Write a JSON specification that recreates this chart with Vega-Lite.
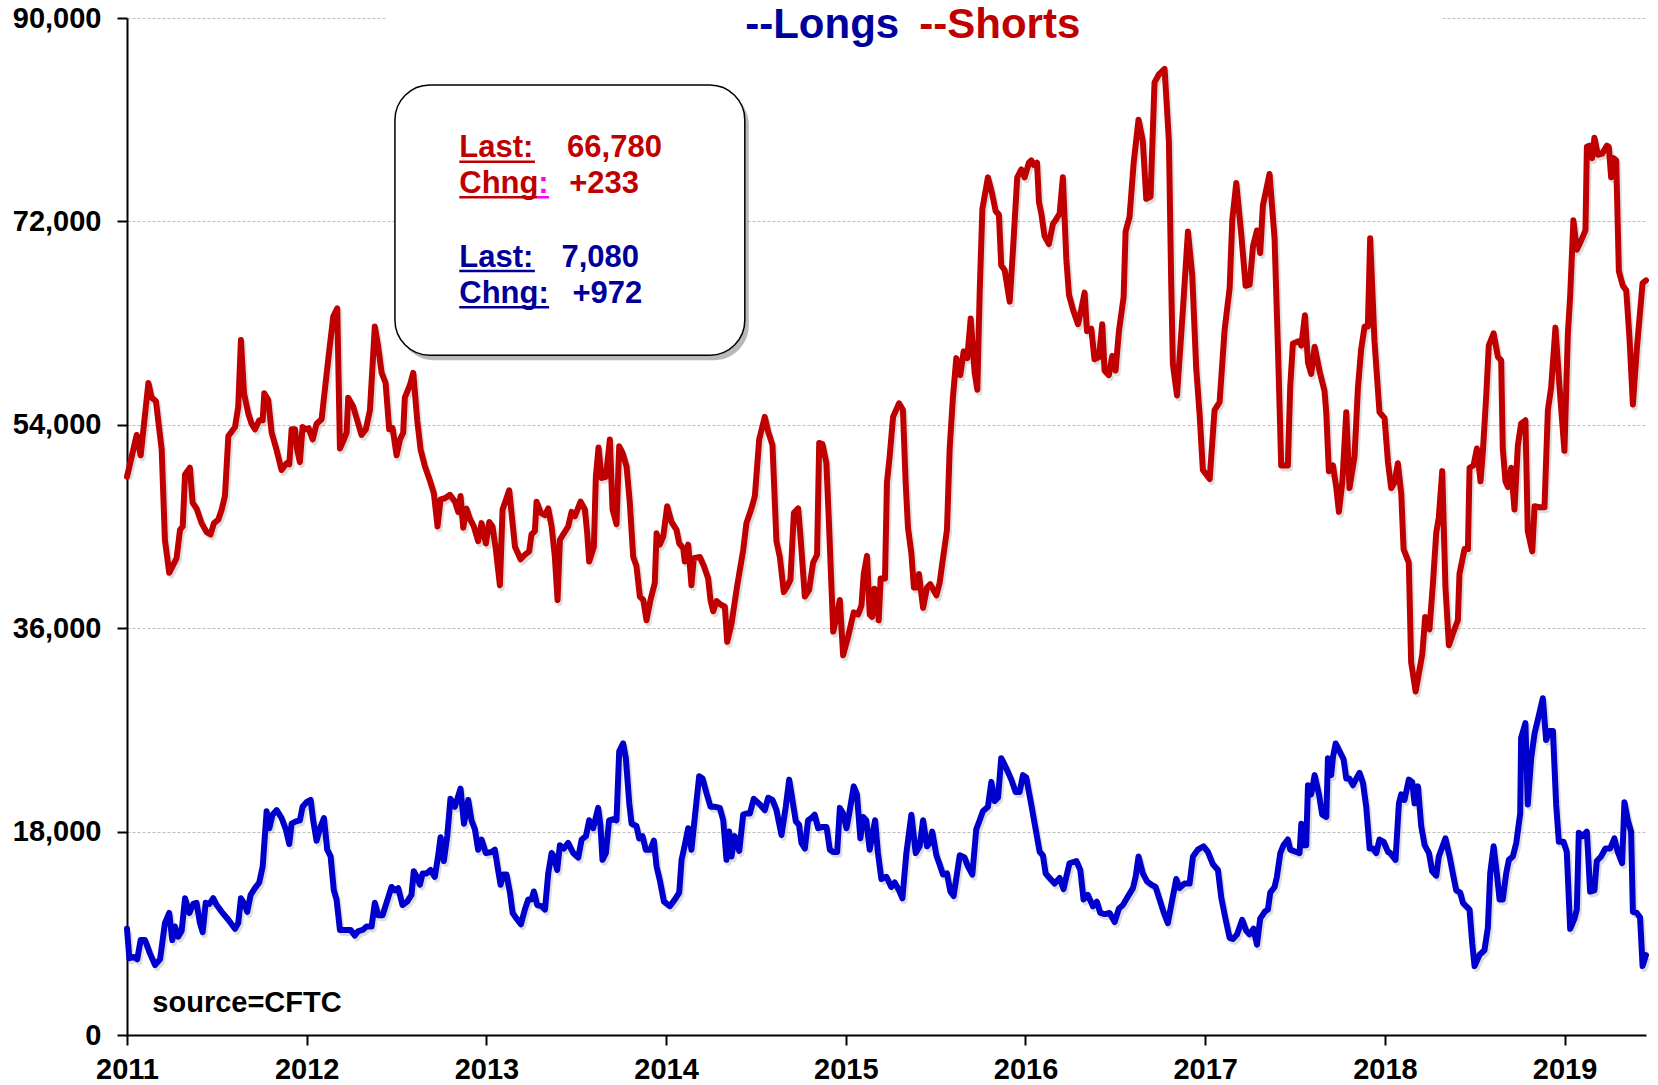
{
  "$schema": "https://vega.github.io/schema/vega-lite/v6.json",
  "width": 1519,
  "height": 1017,
  "autosize": {"type": "none"},
  "padding": {"left": 127, "top": 18, "right": 12, "bottom": 50},
  "background": "white",
  "config": {"view": {"stroke": null}, "font": "Liberation Sans"},
  "datasets": {
    "shorts": [
{"t":2011.000,"v":49400},{"t":2011.054,"v":53100},{"t":2011.076,"v":51300},{"t":2011.119,"v":57700},{"t":2011.137,"v":56400},{"t":2011.161,"v":56100},{"t":2011.193,"v":51800},{"t":2011.211,"v":43800},{"t":2011.235,"v":40900},{"t":2011.276,"v":42200},{"t":2011.295,"v":44700},{"t":2011.310,"v":45000},{"t":2011.323,"v":49600},{"t":2011.350,"v":50200},{"t":2011.365,"v":47100},{"t":2011.387,"v":46600},{"t":2011.415,"v":45300},{"t":2011.443,"v":44500},{"t":2011.465,"v":44300},{"t":2011.484,"v":45300},{"t":2011.508,"v":45600},{"t":2011.527,"v":46500},{"t":2011.545,"v":47700},{"t":2011.564,"v":53000},{"t":2011.601,"v":53800},{"t":2011.619,"v":55600},{"t":2011.634,"v":61500},{"t":2011.651,"v":56800},{"t":2011.675,"v":55000},{"t":2011.693,"v":54100},{"t":2011.712,"v":53600},{"t":2011.736,"v":54400},{"t":2011.755,"v":54400},{"t":2011.764,"v":56800},{"t":2011.786,"v":56200},{"t":2011.805,"v":53300},{"t":2011.832,"v":51800},{"t":2011.860,"v":50000},{"t":2011.888,"v":50600},{"t":2011.903,"v":50500},{"t":2011.916,"v":53600},{"t":2011.935,"v":53600},{"t":2011.947,"v":51800},{"t":2011.962,"v":50700},{"t":2011.977,"v":53800},{"t":2011.996,"v":53600},{"t":2012.011,"v":53700},{"t":2012.033,"v":52700},{"t":2012.055,"v":54100},{"t":2012.083,"v":54500},{"t":2012.101,"v":57100},{"t":2012.125,"v":60500},{"t":2012.148,"v":63600},{"t":2012.170,"v":64300},{"t":2012.185,"v":51900},{"t":2012.207,"v":52700},{"t":2012.222,"v":53300},{"t":2012.231,"v":56400},{"t":2012.259,"v":55600},{"t":2012.281,"v":54400},{"t":2012.305,"v":53100},{"t":2012.329,"v":53600},{"t":2012.352,"v":55300},{"t":2012.379,"v":62700},{"t":2012.398,"v":60900},{"t":2012.417,"v":58600},{"t":2012.439,"v":57700},{"t":2012.459,"v":53600},{"t":2012.478,"v":53700},{"t":2012.500,"v":51300},{"t":2012.519,"v":52700},{"t":2012.537,"v":53300},{"t":2012.546,"v":56400},{"t":2012.574,"v":57500},{"t":2012.593,"v":58600},{"t":2012.615,"v":54400},{"t":2012.634,"v":51800},{"t":2012.658,"v":50300},{"t":2012.685,"v":49100},{"t":2012.708,"v":47900},{"t":2012.728,"v":45000},{"t":2012.745,"v":47400},{"t":2012.769,"v":47500},{"t":2012.797,"v":47800},{"t":2012.825,"v":47200},{"t":2012.843,"v":46300},{"t":2012.856,"v":47700},{"t":2012.871,"v":44900},{"t":2012.889,"v":46600},{"t":2012.908,"v":45700},{"t":2012.930,"v":45000},{"t":2012.954,"v":43700},{"t":2012.973,"v":45300},{"t":2012.997,"v":43500},
{"t":2013.016,"v":45400},{"t":2013.034,"v":45000},{"t":2013.053,"v":42900},{"t":2013.075,"v":39800},{"t":2013.090,"v":46500},{"t":2013.127,"v":48200},{"t":2013.159,"v":43200},{"t":2013.190,"v":42100},{"t":2013.214,"v":42500},{"t":2013.238,"v":42800},{"t":2013.251,"v":44300},{"t":2013.270,"v":44600},{"t":2013.279,"v":47200},{"t":2013.303,"v":46200},{"t":2013.326,"v":46000},{"t":2013.344,"v":46600},{"t":2013.363,"v":45000},{"t":2013.381,"v":42300},{"t":2013.396,"v":38500},{"t":2013.409,"v":43800},{"t":2013.431,"v":44400},{"t":2013.455,"v":45000},{"t":2013.474,"v":46300},{"t":2013.492,"v":45900},{"t":2013.524,"v":47200},{"t":2013.548,"v":46500},{"t":2013.561,"v":44400},{"t":2013.572,"v":41900},{"t":2013.598,"v":43200},{"t":2013.609,"v":49400},{"t":2013.624,"v":52000},{"t":2013.641,"v":49300},{"t":2013.665,"v":49400},{"t":2013.687,"v":52700},{"t":2013.702,"v":46500},{"t":2013.724,"v":45200},{"t":2013.739,"v":52100},{"t":2013.758,"v":51500},{"t":2013.780,"v":50300},{"t":2013.798,"v":47100},{"t":2013.817,"v":42300},{"t":2013.835,"v":41500},{"t":2013.854,"v":38800},{"t":2013.873,"v":38500},{"t":2013.891,"v":36700},{"t":2013.913,"v":38500},{"t":2013.937,"v":40000},{"t":2013.947,"v":44400},{"t":2013.965,"v":43400},{"t":2013.984,"v":44100},{"t":2014.006,"v":46800},{"t":2014.030,"v":45400},{"t":2014.058,"v":44700},{"t":2014.073,"v":43500},{"t":2014.095,"v":43100},{"t":2014.104,"v":41900},{"t":2014.123,"v":43400},{"t":2014.141,"v":39800},{"t":2014.154,"v":42200},{"t":2014.188,"v":42300},{"t":2014.210,"v":41500},{"t":2014.234,"v":40400},{"t":2014.247,"v":38500},{"t":2014.262,"v":37500},{"t":2014.281,"v":38400},{"t":2014.303,"v":38100},{"t":2014.327,"v":37900},{"t":2014.340,"v":34800},{"t":2014.364,"v":36400},{"t":2014.395,"v":39700},{"t":2014.429,"v":42900},{"t":2014.447,"v":45300},{"t":2014.475,"v":46600},{"t":2014.494,"v":47700},{"t":2014.518,"v":52700},{"t":2014.549,"v":54700},{"t":2014.568,"v":53400},{"t":2014.592,"v":52200},{"t":2014.614,"v":43700},{"t":2014.633,"v":42300},{"t":2014.655,"v":39200},{"t":2014.674,"v":39700},{"t":2014.692,"v":40300},{"t":2014.711,"v":46200},{"t":2014.735,"v":46600},{"t":2014.748,"v":44100},{"t":2014.772,"v":38800},{"t":2014.796,"v":39400},{"t":2014.818,"v":41800},{"t":2014.840,"v":42500},{"t":2014.852,"v":52400},{"t":2014.870,"v":52300},{"t":2014.892,"v":50600},{"t":2014.907,"v":45000},{"t":2014.930,"v":35700},{"t":2014.944,"v":36700},{"t":2014.967,"v":38500},{"t":2014.985,"v":33600},
{"t":2015.012,"v":35200},{"t":2015.044,"v":37400},{"t":2015.068,"v":37200},{"t":2015.087,"v":38000},{"t":2015.100,"v":40800},{"t":2015.118,"v":42400},{"t":2015.133,"v":37200},{"t":2015.146,"v":37000},{"t":2015.159,"v":39500},{"t":2015.170,"v":39300},{"t":2015.183,"v":36700},{"t":2015.194,"v":40400},{"t":2015.218,"v":40400},{"t":2015.229,"v":48900},{"t":2015.244,"v":51200},{"t":2015.263,"v":54700},{"t":2015.296,"v":55900},{"t":2015.318,"v":55300},{"t":2015.333,"v":48900},{"t":2015.346,"v":44900},{"t":2015.365,"v":42600},{"t":2015.379,"v":39600},{"t":2015.396,"v":39600},{"t":2015.407,"v":40800},{"t":2015.430,"v":37800},{"t":2015.452,"v":39600},{"t":2015.470,"v":39900},{"t":2015.504,"v":38900},{"t":2015.522,"v":40000},{"t":2015.541,"v":42200},{"t":2015.563,"v":44700},{"t":2015.578,"v":51900},{"t":2015.596,"v":56400},{"t":2015.615,"v":59900},{"t":2015.637,"v":58400},{"t":2015.656,"v":60500},{"t":2015.676,"v":59900},{"t":2015.695,"v":63400},{"t":2015.717,"v":58600},{"t":2015.732,"v":57100},{"t":2015.745,"v":65700},{"t":2015.760,"v":73100},{"t":2015.791,"v":75900},{"t":2015.815,"v":74400},{"t":2015.834,"v":72900},{"t":2015.852,"v":72600},{"t":2015.865,"v":68100},{"t":2015.884,"v":67700},{"t":2015.912,"v":64900},{"t":2015.930,"v":69400},{"t":2015.954,"v":75900},{"t":2015.977,"v":76600},{"t":2015.995,"v":75900},{"t":2016.019,"v":77200},{"t":2016.032,"v":77400},{"t":2016.045,"v":77000},{"t":2016.064,"v":77200},{"t":2016.075,"v":73700},{"t":2016.088,"v":72700},{"t":2016.106,"v":70700},{"t":2016.130,"v":70000},{"t":2016.153,"v":71800},{"t":2016.171,"v":72200},{"t":2016.190,"v":72700},{"t":2016.208,"v":75900},{"t":2016.227,"v":68700},{"t":2016.242,"v":65500},{"t":2016.264,"v":64200},{"t":2016.292,"v":62900},{"t":2016.310,"v":64200},{"t":2016.329,"v":65700},{"t":2016.342,"v":62300},{"t":2016.366,"v":62500},{"t":2016.384,"v":59800},{"t":2016.409,"v":60000},{"t":2016.427,"v":62900},{"t":2016.440,"v":58800},{"t":2016.464,"v":58400},{"t":2016.483,"v":60100},{"t":2016.501,"v":58800},{"t":2016.520,"v":62300},{"t":2016.546,"v":65300},{"t":2016.557,"v":71100},{"t":2016.579,"v":72400},{"t":2016.602,"v":77200},{"t":2016.629,"v":81000},{"t":2016.653,"v":79100},{"t":2016.672,"v":74000},{"t":2016.696,"v":74200},{"t":2016.718,"v":84300},{"t":2016.742,"v":85000},{"t":2016.774,"v":85500},{"t":2016.798,"v":79100},{"t":2016.811,"v":66400},{"t":2016.820,"v":59400},{"t":2016.843,"v":56600},{"t":2016.876,"v":64200},{"t":2016.904,"v":71100},{"t":2016.928,"v":67200},{"t":2016.950,"v":59000},{"t":2016.969,"v":54900},{"t":2016.987,"v":50000},
{"t":2017.025,"v":49200},{"t":2017.052,"v":55300},{"t":2017.080,"v":56000},{"t":2017.108,"v":62400},{"t":2017.136,"v":66100},{"t":2017.151,"v":72200},{"t":2017.173,"v":75400},{"t":2017.201,"v":70800},{"t":2017.225,"v":66300},{"t":2017.247,"v":66400},{"t":2017.266,"v":69800},{"t":2017.288,"v":71200},{"t":2017.306,"v":69200},{"t":2017.321,"v":73400},{"t":2017.358,"v":76200},{"t":2017.386,"v":70500},{"t":2017.405,"v":60700},{"t":2017.423,"v":50400},{"t":2017.460,"v":50400},{"t":2017.473,"v":57300},{"t":2017.488,"v":61200},{"t":2017.522,"v":61400},{"t":2017.535,"v":61000},{"t":2017.555,"v":63700},{"t":2017.572,"v":59500},{"t":2017.590,"v":58500},{"t":2017.609,"v":60900},{"t":2017.637,"v":58700},{"t":2017.664,"v":57000},{"t":2017.674,"v":55000},{"t":2017.688,"v":49900},{"t":2017.711,"v":50400},{"t":2017.729,"v":48500},{"t":2017.744,"v":46300},{"t":2017.763,"v":48900},{"t":2017.785,"v":55100},{"t":2017.803,"v":48400},{"t":2017.831,"v":51200},{"t":2017.850,"v":57300},{"t":2017.868,"v":60700},{"t":2017.887,"v":62700},{"t":2017.905,"v":62700},{"t":2017.918,"v":70500},{"t":2017.942,"v":61400},{"t":2017.970,"v":55100},{"t":2017.998,"v":54600},{"t":2018.017,"v":50700},{"t":2018.035,"v":48400},{"t":2018.054,"v":48900},{"t":2018.072,"v":50600},{"t":2018.091,"v":47900},{"t":2018.104,"v":43000},{"t":2018.133,"v":41800},{"t":2018.146,"v":33000},{"t":2018.171,"v":30400},{"t":2018.208,"v":33700},{"t":2018.224,"v":37000},{"t":2018.248,"v":35900},{"t":2018.267,"v":39900},{"t":2018.286,"v":44500},{"t":2018.300,"v":45800},{"t":2018.319,"v":49900},{"t":2018.337,"v":39600},{"t":2018.356,"v":34500},{"t":2018.378,"v":35500},{"t":2018.406,"v":36700},{"t":2018.415,"v":40800},{"t":2018.443,"v":43000},{"t":2018.462,"v":43000},{"t":2018.471,"v":50200},{"t":2018.493,"v":50400},{"t":2018.512,"v":51900},{"t":2018.532,"v":49000},{"t":2018.545,"v":51600},{"t":2018.564,"v":56600},{"t":2018.578,"v":61000},{"t":2018.605,"v":62100},{"t":2018.629,"v":60000},{"t":2018.647,"v":59700},{"t":2018.656,"v":51900},{"t":2018.671,"v":49000},{"t":2018.684,"v":48500},{"t":2018.703,"v":50200},{"t":2018.721,"v":46500},{"t":2018.740,"v":52200},{"t":2018.758,"v":54100},{"t":2018.782,"v":54400},{"t":2018.795,"v":44600},{"t":2018.820,"v":42800},{"t":2018.833,"v":46800},{"t":2018.860,"v":46700},{"t":2018.888,"v":46700},{"t":2018.907,"v":55300},{"t":2018.925,"v":57300},{"t":2018.949,"v":62600},{"t":2018.972,"v":57300},{"t":2018.999,"v":51700},{"t":2019.018,"v":62000},{"t":2019.031,"v":65400},{"t":2019.049,"v":72100},{"t":2019.068,"v":69500},{"t":2019.092,"v":70300},{"t":2019.116,"v":71200},{"t":2019.124,"v":78600},{"t":2019.138,"v":78700},{"t":2019.153,"v":77600},{"t":2019.166,"v":79400},{"t":2019.185,"v":77900},{"t":2019.209,"v":78000},{"t":2019.235,"v":78700},{"t":2019.246,"v":78600},{"t":2019.259,"v":75900},{"t":2019.272,"v":77600},{"t":2019.287,"v":77400},{"t":2019.302,"v":67600},{"t":2019.324,"v":66300},{"t":2019.343,"v":65900},{"t":2019.361,"v":61700},{"t":2019.380,"v":55800},{"t":2019.402,"v":60700},{"t":2019.434,"v":66547},{"t":2019.453,"v":66780}
    ],
    "longs": [
{"t":2011.000,"v":9400},{"t":2011.013,"v":6800},{"t":2011.039,"v":6900},{"t":2011.057,"v":6700},{"t":2011.076,"v":8400},{"t":2011.100,"v":8400},{"t":2011.128,"v":7200},{"t":2011.156,"v":6200},{"t":2011.184,"v":6700},{"t":2011.211,"v":9900},{"t":2011.235,"v":10800},{"t":2011.252,"v":8400},{"t":2011.267,"v":9600},{"t":2011.285,"v":8700},{"t":2011.304,"v":9200},{"t":2011.323,"v":12100},{"t":2011.347,"v":10800},{"t":2011.369,"v":11600},{"t":2011.387,"v":11700},{"t":2011.406,"v":9900},{"t":2011.421,"v":9100},{"t":2011.438,"v":11700},{"t":2011.458,"v":11600},{"t":2011.480,"v":12100},{"t":2011.499,"v":11500},{"t":2011.527,"v":10900},{"t":2011.564,"v":10200},{"t":2011.601,"v":9400},{"t":2011.619,"v":9900},{"t":2011.634,"v":12100},{"t":2011.656,"v":11500},{"t":2011.669,"v":10900},{"t":2011.688,"v":12400},{"t":2011.712,"v":13000},{"t":2011.736,"v":13500},{"t":2011.755,"v":14900},{"t":2011.777,"v":19800},{"t":2011.792,"v":18300},{"t":2011.810,"v":19500},{"t":2011.833,"v":19900},{"t":2011.860,"v":19200},{"t":2011.884,"v":18200},{"t":2011.903,"v":16900},{"t":2011.916,"v":18700},{"t":2011.940,"v":18900},{"t":2011.962,"v":19000},{"t":2011.977,"v":20200},{"t":2011.999,"v":20600},{"t":2012.022,"v":20800},{"t":2012.036,"v":19000},{"t":2012.055,"v":17200},{"t":2012.074,"v":18300},{"t":2012.096,"v":19200},{"t":2012.114,"v":16400},{"t":2012.133,"v":15800},{"t":2012.151,"v":12800},{"t":2012.166,"v":12000},{"t":2012.185,"v":9300},{"t":2012.213,"v":9300},{"t":2012.244,"v":9300},{"t":2012.268,"v":8800},{"t":2012.287,"v":9200},{"t":2012.311,"v":9300},{"t":2012.333,"v":9600},{"t":2012.361,"v":9600},{"t":2012.379,"v":11700},{"t":2012.398,"v":10600},{"t":2012.422,"v":10600},{"t":2012.444,"v":11700},{"t":2012.472,"v":13100},{"t":2012.491,"v":12800},{"t":2012.509,"v":13000},{"t":2012.533,"v":11500},{"t":2012.559,"v":11800},{"t":2012.583,"v":12400},{"t":2012.596,"v":14500},{"t":2012.615,"v":13900},{"t":2012.630,"v":13300},{"t":2012.645,"v":14300},{"t":2012.667,"v":14300},{"t":2012.689,"v":14600},{"t":2012.713,"v":14000},{"t":2012.732,"v":15900},{"t":2012.745,"v":17500},{"t":2012.763,"v":15400},{"t":2012.782,"v":17600},{"t":2012.800,"v":20900},{"t":2012.825,"v":20200},{"t":2012.856,"v":21800},{"t":2012.875,"v":18700},{"t":2012.899,"v":20800},{"t":2012.917,"v":19000},{"t":2012.936,"v":18200},{"t":2012.954,"v":16400},{"t":2012.973,"v":17300},{"t":2012.997,"v":16100},
{"t":2013.029,"v":16200},{"t":2013.047,"v":16400},{"t":2013.066,"v":14500},{"t":2013.079,"v":13300},{"t":2013.094,"v":14200},{"t":2013.112,"v":14200},{"t":2013.131,"v":12600},{"t":2013.146,"v":10800},{"t":2013.168,"v":10300},{"t":2013.192,"v":9800},{"t":2013.214,"v":11100},{"t":2013.233,"v":12000},{"t":2013.251,"v":12000},{"t":2013.264,"v":12700},{"t":2013.283,"v":11500},{"t":2013.307,"v":11400},{"t":2013.326,"v":11100},{"t":2013.344,"v":14300},{"t":2013.363,"v":16100},{"t":2013.376,"v":15800},{"t":2013.394,"v":14600},{"t":2013.409,"v":16800},{"t":2013.431,"v":16500},{"t":2013.455,"v":17000},{"t":2013.483,"v":16100},{"t":2013.511,"v":15700},{"t":2013.530,"v":17300},{"t":2013.554,"v":17600},{"t":2013.572,"v":19000},{"t":2013.594,"v":18300},{"t":2013.622,"v":20100},{"t":2013.635,"v":18500},{"t":2013.646,"v":15500},{"t":2013.665,"v":16100},{"t":2013.683,"v":19000},{"t":2013.706,"v":19100},{"t":2013.724,"v":19000},{"t":2013.739,"v":25100},{"t":2013.761,"v":25800},{"t":2013.776,"v":24500},{"t":2013.795,"v":20500},{"t":2013.808,"v":18700},{"t":2013.835,"v":18500},{"t":2013.850,"v":17400},{"t":2013.869,"v":17600},{"t":2013.887,"v":16400},{"t":2013.913,"v":16400},{"t":2013.932,"v":17200},{"t":2013.947,"v":14900},{"t":2013.965,"v":13700},{"t":2013.988,"v":11800},{"t":2014.021,"v":11400},{"t":2014.049,"v":12000},{"t":2014.073,"v":12600},{"t":2014.086,"v":15500},{"t":2014.104,"v":16800},{"t":2014.123,"v":18300},{"t":2014.141,"v":16400},{"t":2014.160,"v":19300},{"t":2014.184,"v":22900},{"t":2014.203,"v":22700},{"t":2014.225,"v":21400},{"t":2014.247,"v":20200},{"t":2014.271,"v":20200},{"t":2014.299,"v":20100},{"t":2014.318,"v":19000},{"t":2014.336,"v":15500},{"t":2014.351,"v":18000},{"t":2014.364,"v":15800},{"t":2014.382,"v":17600},{"t":2014.407,"v":16300},{"t":2014.429,"v":19500},{"t":2014.447,"v":19600},{"t":2014.466,"v":19600},{"t":2014.488,"v":20900},{"t":2014.522,"v":20400},{"t":2014.549,"v":19900},{"t":2014.568,"v":21000},{"t":2014.592,"v":20800},{"t":2014.614,"v":19900},{"t":2014.642,"v":17700},{"t":2014.666,"v":20200},{"t":2014.685,"v":22600},{"t":2014.703,"v":20800},{"t":2014.722,"v":18900},{"t":2014.740,"v":18600},{"t":2014.753,"v":17000},{"t":2014.772,"v":16500},{"t":2014.790,"v":19000},{"t":2014.809,"v":19200},{"t":2014.827,"v":19500},{"t":2014.846,"v":18300},{"t":2014.865,"v":18400},{"t":2014.893,"v":18400},{"t":2014.911,"v":16400},{"t":2014.930,"v":16200},{"t":2014.952,"v":16200},{"t":2014.967,"v":20100},{"t":2014.985,"v":19600},{"t":2015.004,"v":18300},
{"t":2015.018,"v":19500},{"t":2015.044,"v":22000},{"t":2015.062,"v":21300},{"t":2015.081,"v":17400},{"t":2015.096,"v":19300},{"t":2015.114,"v":19000},{"t":2015.133,"v":16400},{"t":2015.148,"v":17700},{"t":2015.163,"v":19000},{"t":2015.179,"v":16100},{"t":2015.198,"v":13800},{"t":2015.226,"v":14000},{"t":2015.253,"v":13100},{"t":2015.272,"v":13500},{"t":2015.296,"v":12800},{"t":2015.315,"v":12100},{"t":2015.337,"v":16100},{"t":2015.365,"v":19500},{"t":2015.389,"v":16100},{"t":2015.411,"v":16700},{"t":2015.430,"v":19000},{"t":2015.452,"v":16700},{"t":2015.467,"v":17000},{"t":2015.481,"v":18000},{"t":2015.504,"v":15900},{"t":2015.522,"v":15100},{"t":2015.541,"v":14200},{"t":2015.563,"v":14300},{"t":2015.582,"v":12700},{"t":2015.600,"v":12300},{"t":2015.619,"v":14300},{"t":2015.634,"v":15900},{"t":2015.661,"v":15700},{"t":2015.680,"v":14900},{"t":2015.704,"v":14200},{"t":2015.726,"v":18200},{"t":2015.745,"v":19000},{"t":2015.763,"v":19800},{"t":2015.791,"v":20200},{"t":2015.810,"v":22400},{"t":2015.828,"v":20700},{"t":2015.847,"v":21000},{"t":2015.865,"v":24500},{"t":2015.893,"v":23600},{"t":2015.921,"v":22600},{"t":2015.945,"v":21500},{"t":2015.967,"v":21500},{"t":2015.986,"v":23000},{"t":2016.004,"v":22800},{"t":2016.032,"v":20400},{"t":2016.060,"v":17900},{"t":2016.079,"v":16200},{"t":2016.097,"v":15900},{"t":2016.112,"v":14300},{"t":2016.134,"v":13900},{"t":2016.162,"v":13400},{"t":2016.190,"v":13900},{"t":2016.212,"v":12900},{"t":2016.227,"v":14000},{"t":2016.245,"v":15200},{"t":2016.283,"v":15400},{"t":2016.305,"v":14600},{"t":2016.323,"v":12000},{"t":2016.347,"v":12400},{"t":2016.375,"v":11400},{"t":2016.397,"v":11800},{"t":2016.416,"v":10800},{"t":2016.440,"v":10700},{"t":2016.468,"v":10800},{"t":2016.496,"v":10000},{"t":2016.520,"v":11200},{"t":2016.542,"v":11500},{"t":2016.564,"v":12100},{"t":2016.598,"v":13000},{"t":2016.613,"v":14000},{"t":2016.629,"v":15800},{"t":2016.653,"v":14300},{"t":2016.676,"v":13600},{"t":2016.700,"v":13300},{"t":2016.724,"v":13100},{"t":2016.746,"v":12000},{"t":2016.768,"v":10900},{"t":2016.792,"v":9900},{"t":2016.817,"v":12000},{"t":2016.839,"v":13800},{"t":2016.857,"v":13000},{"t":2016.885,"v":13400},{"t":2016.913,"v":13400},{"t":2016.932,"v":15800},{"t":2016.959,"v":16400},{"t":2016.991,"v":16700},{"t":2017.015,"v":16200},
{"t":2017.043,"v":15100},{"t":2017.071,"v":14600},{"t":2017.090,"v":12100},{"t":2017.114,"v":10200},{"t":2017.136,"v":8600},{"t":2017.154,"v":8500},{"t":2017.177,"v":8900},{"t":2017.206,"v":10200},{"t":2017.229,"v":9200},{"t":2017.247,"v":8900},{"t":2017.269,"v":9400},{"t":2017.288,"v":8000},{"t":2017.306,"v":10300},{"t":2017.331,"v":10900},{"t":2017.349,"v":11100},{"t":2017.362,"v":12600},{"t":2017.386,"v":13100},{"t":2017.399,"v":14000},{"t":2017.418,"v":16100},{"t":2017.436,"v":16800},{"t":2017.460,"v":17300},{"t":2017.473,"v":16400},{"t":2017.507,"v":16200},{"t":2017.525,"v":16100},{"t":2017.535,"v":18700},{"t":2017.548,"v":16800},{"t":2017.562,"v":16800},{"t":2017.572,"v":22100},{"t":2017.590,"v":21300},{"t":2017.609,"v":23000},{"t":2017.633,"v":21300},{"t":2017.651,"v":19500},{"t":2017.674,"v":19300},{"t":2017.683,"v":24500},{"t":2017.701,"v":23000},{"t":2017.711,"v":24600},{"t":2017.726,"v":25800},{"t":2017.748,"v":25100},{"t":2017.770,"v":24400},{"t":2017.785,"v":22700},{"t":2017.803,"v":22700},{"t":2017.822,"v":22100},{"t":2017.841,"v":22700},{"t":2017.859,"v":23200},{"t":2017.878,"v":22300},{"t":2017.896,"v":20200},{"t":2017.915,"v":16500},{"t":2017.933,"v":16500},{"t":2017.952,"v":16100},{"t":2017.970,"v":17300},{"t":2017.993,"v":17100},{"t":2018.017,"v":16200},{"t":2018.030,"v":16100},{"t":2018.059,"v":15500},{"t":2018.078,"v":20500},{"t":2018.091,"v":21300},{"t":2018.109,"v":20800},{"t":2018.133,"v":22600},{"t":2018.152,"v":22400},{"t":2018.165,"v":20500},{"t":2018.184,"v":22000},{"t":2018.202,"v":18500},{"t":2018.221,"v":16800},{"t":2018.245,"v":16100},{"t":2018.263,"v":14500},{"t":2018.286,"v":14100},{"t":2018.300,"v":15800},{"t":2018.337,"v":17400},{"t":2018.360,"v":15800},{"t":2018.378,"v":14300},{"t":2018.397,"v":12800},{"t":2018.419,"v":12600},{"t":2018.434,"v":11700},{"t":2018.471,"v":11100},{"t":2018.486,"v":8100},{"t":2018.499,"v":6100},{"t":2018.527,"v":7100},{"t":2018.554,"v":7500},{"t":2018.573,"v":9500},{"t":2018.586,"v":14300},{"t":2018.605,"v":16700},{"t":2018.625,"v":14000},{"t":2018.638,"v":12000},{"t":2018.656,"v":12000},{"t":2018.675,"v":14300},{"t":2018.690,"v":15500},{"t":2018.712,"v":15800},{"t":2018.731,"v":17000},{"t":2018.753,"v":19600},{"t":2018.758,"v":26300},{"t":2018.782,"v":27600},{"t":2018.795,"v":20400},{"t":2018.814,"v":24500},{"t":2018.833,"v":26700},{"t":2018.857,"v":28300},{"t":2018.879,"v":29800},{"t":2018.897,"v":26100},{"t":2018.916,"v":26900},{"t":2018.935,"v":26900},{"t":2018.953,"v":20400},{"t":2018.968,"v":17100},{"t":2018.994,"v":17100},{"t":2019.012,"v":16200},{"t":2019.031,"v":9400},{"t":2019.055,"v":10300},{"t":2019.068,"v":11100},{"t":2019.079,"v":17900},{"t":2019.101,"v":17600},{"t":2019.124,"v":18000},{"t":2019.142,"v":12700},{"t":2019.166,"v":12800},{"t":2019.179,"v":15400},{"t":2019.203,"v":15800},{"t":2019.227,"v":16500},{"t":2019.253,"v":16500},{"t":2019.277,"v":17400},{"t":2019.296,"v":16200},{"t":2019.320,"v":15200},{"t":2019.333,"v":20600},{"t":2019.352,"v":19000},{"t":2019.370,"v":18000},{"t":2019.380,"v":10900},{"t":2019.402,"v":10800},{"t":2019.420,"v":10400},{"t":2019.434,"v":6108},{"t":2019.453,"v":7080}
    ]
  },
  "layer": [
    {
      "data": {"name": "shorts"},
      "mark": {"type": "line", "color": "#000000", "opacity": 0.13, "strokeWidth": 6, "strokeJoin": "round", "xOffset": 2, "yOffset": 3},
      "encoding": {
        "x": {"field": "t", "type": "quantitative", "scale": {"domain": [2011, 2019.453], "nice": false, "zero": false},
          "axis": {"values": [2011, 2012, 2013, 2014, 2015, 2016, 2017, 2018, 2019], "format": "d", "title": null, "grid": false,
            "labelFont": "Liberation Sans", "labelFontWeight": "bold", "labelFontSize": 29, "labelColor": "#000000",
            "labelFlush": false, "labelOverlap": false, "labelBound": false, "labelPadding": 10,
            "tickSize": 10, "tickWidth": 2, "tickColor": "#000000", "domainColor": "#000000", "domainWidth": 2}},
        "y": {"field": "v", "type": "quantitative", "scale": {"domain": [0, 90000], "nice": false},
          "axis": {"values": [0, 18000, 36000, 54000, 72000, 90000], "format": ",d", "title": null,
            "labelFont": "Liberation Sans", "labelFontWeight": "bold", "labelFontSize": 29, "labelColor": "#000000",
            "labelFlush": false, "labelOverlap": false, "labelBound": false, "labelPadding": 16,
            "tickSize": 10, "tickWidth": 2, "tickColor": "#000000", "domainColor": "#000000", "domainWidth": 2,
            "grid": true, "gridColor": "#BDBDBD", "gridDash": [3, 2], "gridWidth": 1}}
      }
    },
    {
      "data": {"name": "longs"},
      "mark": {"type": "line", "color": "#000000", "opacity": 0.13, "strokeWidth": 6, "strokeJoin": "round", "xOffset": 2, "yOffset": 3},
      "encoding": {"x": {"field": "t", "type": "quantitative"}, "y": {"field": "v", "type": "quantitative"}}
    },
    {
      "data": {"values": [{}]},
      "mark": {"type": "rect", "color": "#FFFFFF"},
      "encoding": {"x": {"datum": 2012.441}, "x2": {"datum": 2018.321}, "y": {"datum": 89000}, "y2": {"datum": 91000}}
    },
    {
      "data": {"name": "shorts"},
      "mark": {"type": "line", "color": "#C00000", "strokeWidth": 6, "strokeJoin": "round", "strokeCap": "round"},
      "encoding": {"x": {"field": "t", "type": "quantitative"}, "y": {"field": "v", "type": "quantitative"}}
    },
    {
      "data": {"name": "longs"},
      "mark": {"type": "line", "color": "#0000CC", "strokeWidth": 6, "strokeJoin": "round", "strokeCap": "round"},
      "encoding": {"x": {"field": "t", "type": "quantitative"}, "y": {"field": "v", "type": "quantitative"}}
    },
    {
      "data": {"values": [{}]},
      "mark": {"type": "rect", "color": "#808080", "opacity": 0.55, "cornerRadius": 35, "xOffset": 4, "x2Offset": 4, "yOffset": 5, "y2Offset": 5},
      "encoding": {"x": {"datum": 2012.491}, "x2": {"datum": 2014.438}, "y": {"datum": 84075}, "y2": {"datum": 60161}}
    },
    {
      "data": {"values": [{}]},
      "mark": {"type": "rect", "fill": "#FFFFFF", "stroke": "#000000", "strokeWidth": 1.5, "cornerRadius": 35},
      "encoding": {"x": {"datum": 2012.491}, "x2": {"datum": 2014.438}, "y": {"datum": 84075}, "y2": {"datum": 60161}}
    },
    {
      "data": {"values": [{}]},
      "mark": {"type": "text", "text": "Last:", "font": "Liberation Sans", "fontSize": 31, "fontWeight": "bold", "color": "#C00000", "align": "left", "baseline": "alphabetic"},
      "encoding": {"x": {"datum": 2012.849}, "y": {"datum": 77678}}
    },
    {
      "data": {"values": [{}]},
      "mark": {"type": "text", "text": "66,780", "font": "Liberation Sans", "fontSize": 31, "fontWeight": "bold", "color": "#C00000", "align": "left", "baseline": "alphabetic"},
      "encoding": {"x": {"datum": 2013.449}, "y": {"datum": 77678}}
    },
    {
      "data": {"values": [{}]},
      "mark": {"type": "text", "text": "Chng", "font": "Liberation Sans", "fontSize": 31, "fontWeight": "bold", "color": "#C00000", "align": "left", "baseline": "alphabetic"},
      "encoding": {"x": {"datum": 2012.849}, "y": {"datum": 74491}}
    },
    {
      "data": {"values": [{}]},
      "mark": {"type": "text", "text": ":", "font": "Liberation Sans", "fontSize": 31, "fontWeight": "bold", "color": "#FF00FF", "align": "left", "baseline": "alphabetic"},
      "encoding": {"x": {"datum": 2013.288}, "y": {"datum": 74491}}
    },
    {
      "data": {"values": [{}]},
      "mark": {"type": "text", "text": "+233", "font": "Liberation Sans", "fontSize": 31, "fontWeight": "bold", "color": "#C00000", "align": "left", "baseline": "alphabetic"},
      "encoding": {"x": {"datum": 2013.461}, "y": {"datum": 74491}}
    },
    {
      "data": {"values": [{}]},
      "mark": {"type": "text", "text": "Last:", "font": "Liberation Sans", "fontSize": 31, "fontWeight": "bold", "color": "#000099", "align": "left", "baseline": "alphabetic"},
      "encoding": {"x": {"datum": 2012.849}, "y": {"datum": 67997}}
    },
    {
      "data": {"values": [{}]},
      "mark": {"type": "text", "text": "7,080", "font": "Liberation Sans", "fontSize": 31, "fontWeight": "bold", "color": "#000099", "align": "left", "baseline": "alphabetic"},
      "encoding": {"x": {"datum": 2013.418}, "y": {"datum": 67997}}
    },
    {
      "data": {"values": [{}]},
      "mark": {"type": "text", "text": "Chng:", "font": "Liberation Sans", "fontSize": 31, "fontWeight": "bold", "color": "#000099", "align": "left", "baseline": "alphabetic"},
      "encoding": {"x": {"datum": 2012.849}, "y": {"datum": 64811}}
    },
    {
      "data": {"values": [{}]},
      "mark": {"type": "text", "text": "+972", "font": "Liberation Sans", "fontSize": 31, "fontWeight": "bold", "color": "#000099", "align": "left", "baseline": "alphabetic"},
      "encoding": {"x": {"datum": 2013.479}, "y": {"datum": 64811}}
    },
    {
      "data": {"values": [{}]},
      "mark": {"type": "rule", "color": "#C00000", "strokeWidth": 2.5},
      "encoding": {"x": {"datum": 2012.849}, "x2": {"datum": 2013.270}, "y": {"datum": 77288}}
    },
    {
      "data": {"values": [{}]},
      "mark": {"type": "rule", "color": "#C00000", "strokeWidth": 2.5},
      "encoding": {"x": {"datum": 2012.849}, "x2": {"datum": 2013.285}, "y": {"datum": 74137}}
    },
    {
      "data": {"values": [{}]},
      "mark": {"type": "rule", "color": "#FF00FF", "strokeWidth": 2.5},
      "encoding": {"x": {"datum": 2013.285}, "x2": {"datum": 2013.349}, "y": {"datum": 74137}}
    },
    {
      "data": {"values": [{}]},
      "mark": {"type": "rule", "color": "#000099", "strokeWidth": 2.5},
      "encoding": {"x": {"datum": 2012.849}, "x2": {"datum": 2013.270}, "y": {"datum": 67617}}
    },
    {
      "data": {"values": [{}]},
      "mark": {"type": "rule", "color": "#000099", "strokeWidth": 2.5},
      "encoding": {"x": {"datum": 2012.849}, "x2": {"datum": 2013.349}, "y": {"datum": 64405}}
    },
    {
      "data": {"values": [{}]},
      "mark": {"type": "text", "text": "source=CFTC", "font": "Liberation Sans", "fontSize": 29, "fontWeight": "bold", "color": "#000000", "align": "left", "baseline": "alphabetic"},
      "encoding": {"x": {"datum": 2011.141}, "y": {"datum": 2026}}
    },
    {
      "data": {"values": [{}]},
      "mark": {"type": "text", "text": "--Longs", "font": "Liberation Sans", "fontSize": 42, "fontWeight": "bold", "color": "#00009C", "align": "right", "baseline": "alphabetic"},
      "encoding": {"x": {"datum": 2015.297}, "y": {"datum": 88230}}
    },
    {
      "data": {"values": [{}]},
      "mark": {"type": "text", "text": "--Shorts", "font": "Liberation Sans", "fontSize": 42, "fontWeight": "bold", "color": "#C00000", "align": "left", "baseline": "alphabetic"},
      "encoding": {"x": {"datum": 2015.409}, "y": {"datum": 88230}}
    }
  ]
}
